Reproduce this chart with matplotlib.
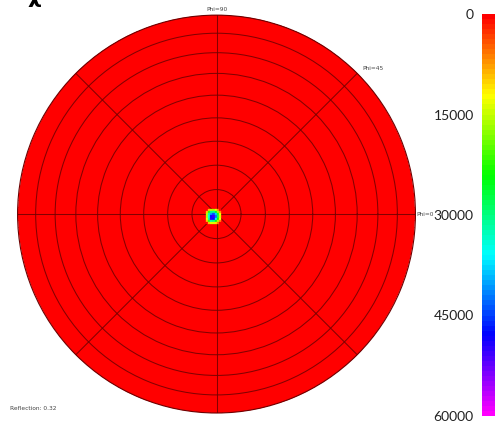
import numpy as np
import matplotlib
matplotlib.use("Agg")
import matplotlib.pyplot as plt
from matplotlib.colors import ListedColormap, Normalize, hsv_to_rgb
from matplotlib.cm import ScalarMappable

# ── data ──────────────────────────────────────────────────────────────────────
zenith_rings_deg = [10, 20, 30, 40, 50, 60, 70, 80]          # equal-area rings
azimuth_spokes_deg = [0, 45, 90, 135, 180, 225, 270, 315]
phi_labels = ["Phi=0", "Phi=45", "Phi=90"]
background_value = 0
# small bright spot near the centre (rows top -> bottom)
spot_values = [
    [0,     9000, 15000, 16000, 13000,  7000,     0],
    [9000, 22000, 30000, 31000, 26000, 16000,  7000],
    [15000, 32000, 40000, 44000, 38000, 26000, 13000],
    [16000, 34000, 47000, 50000, 42000, 28000, 14000],
    [14000, 32000, 50000, 47000, 36000, 24000, 12000],
    [9000, 22000, 32000, 30000, 25000, 16000,  7000],
    [0,     9000, 14000, 14000, 11000,  6000,     0],
]
cbar_ticks = [0, 15000, 30000, 45000, 60000]
vmin, vmax = 0, 60000
reflection_text = "Reflection: 0.32"

# ── colours: hue sweep red -> magenta, 80 bands ──────────────────────────────
n_bands = 80
hues = np.linspace(0.0, 5 / 6, n_bands)
hsv = np.column_stack([hues, np.ones(n_bands), np.ones(n_bands)])
cmap = ListedColormap(hsv_to_rgb(hsv))
norm = Normalize(vmin, vmax)
grid_col = "#6e0000"

fig = plt.figure(figsize=(4.95, 4.26), dpi=100)
ax = fig.add_axes([0.0354, 0.0305, 0.804, 0.934], projection="polar")


def lambert(theta_deg):
    # equal-area projection: zenith angle -> radius (90 deg -> 1)
    return np.sin(np.radians(np.asarray(theta_deg) / 2)) / np.sin(np.radians(45))


# background field
th_edges = np.linspace(0, 2 * np.pi, 181)
bg = np.full((1, 180), background_value)
ax.pcolormesh(th_edges, [0, 1], bg, cmap=cmap, norm=norm,
              shading="flat", zorder=0.5, antialiased=False)

# central spot on a tiny cartesian grid
spot = np.array(spot_values)
cell = 0.0112
cx, cy = -0.015, -0.0126
n = spot.shape[0]
xe = cx + (np.arange(n + 1) - n / 2) * cell
ye = cy + (n / 2 - np.arange(n + 1)) * cell
X, Y = np.meshgrid(xe, ye)
ax.pcolormesh(np.arctan2(Y, X), np.hypot(X, Y), spot, cmap=cmap, norm=norm,
              shading="flat", zorder=2, antialiased=True, edgecolors="face",
              linewidth=0.2)

ax.set_ylim(0, 1)
ax.set_rgrids(lambert(zenith_rings_deg), labels=[])
ax.set_thetagrids(azimuth_spokes_deg, labels=[])
ax.grid(True, color=grid_col, lw=0.75, alpha=0.85)
ax.spines["polar"].set_color(grid_col)
ax.spines["polar"].set_linewidth(0.8)
ax.tick_params(length=0)

# phi labels
lab_kw = dict(fontsize=4.2, color="#444444", family="DejaVu Sans")
ax.text(0.0, 1.004, phi_labels[0], ha="left", va="center", **lab_kw)
ax.text(np.radians(45), 1.035, phi_labels[1], ha="left", va="center", **lab_kw)
ax.text(np.radians(90), 1.03, phi_labels[2], ha="center", va="center", **lab_kw)

fig.text(10 / 495, 1 - 409 / 426, reflection_text, fontsize=4.2,
         color="#444444", ha="left", va="center")
fig.text(34 / 495, 1.006, "χ", fontsize=15, fontweight="bold",
         ha="center", va="center")

# colour bar
cax = fig.add_axes([482 / 495, 10 / 426, 13 / 495, 402 / 426])
sm = ScalarMappable(norm=norm, cmap=cmap)
cbar = fig.colorbar(sm, cax=cax, ticks=cbar_ticks, drawedges=True)
cbar.outline.set_visible(False)
cbar.dividers.set_color("white")
cbar.dividers.set_alpha(0.35)
cbar.dividers.set_linewidth(0.5)
cax.invert_yaxis()
cax.yaxis.set_ticks_position("left")
cax.tick_params(length=0, pad=6, labelsize=10)
for t in cax.get_yticklabels():
    t.set_family("Lato")
    t.set_color("#222222")

fig.savefig("out.png", dpi=100)
